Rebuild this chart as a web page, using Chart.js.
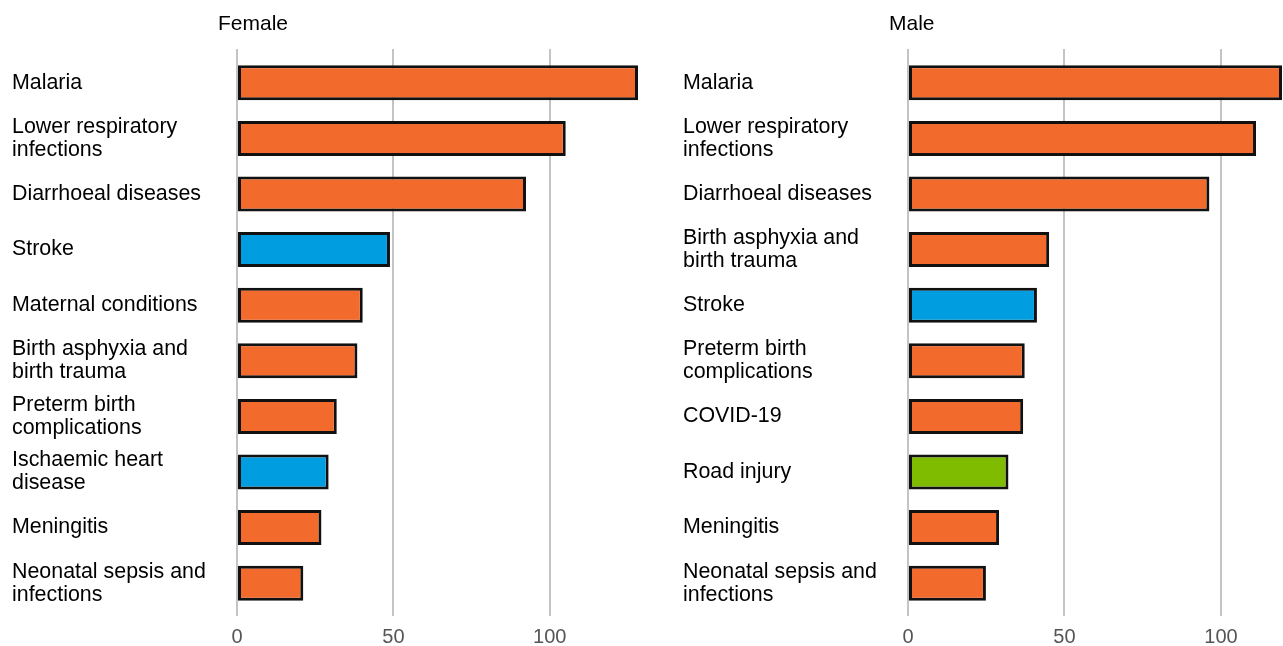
<!DOCTYPE html>
<html>
<head>
<meta charset="utf-8">
<script src="https://cdn.jsdelivr.net/npm/chart.js@4.4.1/dist/chart.umd.min.js"></script>
<style>
  html, body { margin: 0; padding: 0; background: #fff; overflow: hidden; }
  .panel { position: absolute; top: 0; height: 658px; }
</style>
</head>
<body>
<div class="panel" style="left:0px;width:660px;"><canvas id="female"></canvas></div>
<div class="panel" style="left:671px;width:612px;"><canvas id="male"></canvas></div>
<script>
// Female panel
const femaleCauses = [
  'Malaria',
  ['Lower respiratory', 'infections'],
  'Diarrhoeal diseases',
  'Stroke',
  'Maternal conditions',
  ['Birth asphyxia and', 'birth trauma'],
  ['Preterm birth', 'complications'],
  ['Ischaemic heart', 'disease'],
  'Meningitis',
  ['Neonatal sepsis and', 'infections']
];
const femaleValues = [128.2, 105.1, 92.4, 48.9, 40.2, 38.5, 31.9, 29.3, 27.0, 21.2];
const femaleGroups = ['comm', 'comm', 'comm', 'ncd', 'comm', 'comm', 'comm', 'ncd', 'comm', 'comm'];

// Male panel
const maleCauses = [
  'Malaria',
  ['Lower respiratory', 'infections'],
  'Diarrhoeal diseases',
  ['Birth asphyxia and', 'birth trauma'],
  'Stroke',
  ['Preterm birth', 'complications'],
  'COVID-19',
  'Road injury',
  'Meningitis',
  ['Neonatal sepsis and', 'infections']
];
const maleValues = [119.5, 111.2, 96.3, 45.1, 41.2, 37.3, 36.8, 32.1, 29.1, 24.9];
const maleGroups = ['comm', 'comm', 'comm', 'comm', 'ncd', 'comm', 'comm', 'inj', 'comm', 'comm'];

const xTicks = [0, 50, 100];

const groupColors = { comm: '#F26A2C', ncd: '#009DE0', inj: '#7FBC00' };
const FONT = '"Liberation Sans", Arial, sans-serif';

// panel heading, placed a bit left of the zero line like the original
const panelTitle = {
  id: 'panelTitle',
  afterDraw(chart, args, opts) {
    const ctx = chart.ctx;
    ctx.save();
    ctx.font = '21px ' + FONT;
    ctx.fillStyle = '#000';
    ctx.textBaseline = 'middle';
    ctx.textAlign = 'left';
    ctx.fillText(opts.text, chart.chartArea.left - 19, 24);
    ctx.restore();
  }
};

function makePanel(id, title, causes, values, groups, padRight) {
  const xMax = Math.max(...values);
  const gridStyle = { color: '#c4c4c4', lineWidth: 2 };
  return new Chart(document.getElementById(id), {
    type: 'bar',
    data: {
      labels: causes,
      datasets: [{
        data: values,
        backgroundColor: groups.map(g => groupColors[g]),
        borderColor: '#111',
        borderWidth: 3,
        borderSkipped: false,
        categoryPercentage: 1,
        barPercentage: 0.63
      }]
    },
    options: {
      indexAxis: 'y',
      responsive: true,
      maintainAspectRatio: false,
      animation: false,
      layout: { padding: { left: 12, right: padRight, top: 49, bottom: 0 } },
      plugins: {
        legend: { display: false },
        tooltip: { enabled: false },
        panelTitle: { text: title }
      },
      scales: {
        x: {
          type: 'linear',
          position: 'bottom',
          min: 0,
          max: xMax,
          afterBuildTicks: s => { s.ticks = xTicks.map(v => ({ value: v })); },
          ticks: { color: '#555', font: { size: 20, family: FONT }, padding: 9 },
          grid: Object.assign({ drawTicks: true, tickLength: 5 }, gridStyle),
          border: { display: false }
        },
        x2: {
          type: 'linear',
          position: 'top',
          min: 0,
          max: xMax,
          afterBuildTicks: s => { s.ticks = xTicks.map(v => ({ value: v })); },
          ticks: { display: false },
          grid: Object.assign({ drawTicks: true, tickLength: 6 }, gridStyle),
          border: { display: false }
        },
        y: {
          type: 'category',
          ticks: {
            color: '#000',
            crossAlign: 'far',
            padding: 0,
            font: { size: 21.4, family: FONT, lineHeight: 1.08 }
          },
          grid: { display: false },
          border: { display: false },
          afterFit: s => { s.width = 225; }
        }
      }
    },
    plugins: [panelTitle]
  });
}

makePanel('female', 'Female', femaleCauses, femaleValues, femaleGroups, 22);
makePanel('male', 'Male', maleCauses, maleValues, maleGroups, 1);
</script>
</body>
</html>
